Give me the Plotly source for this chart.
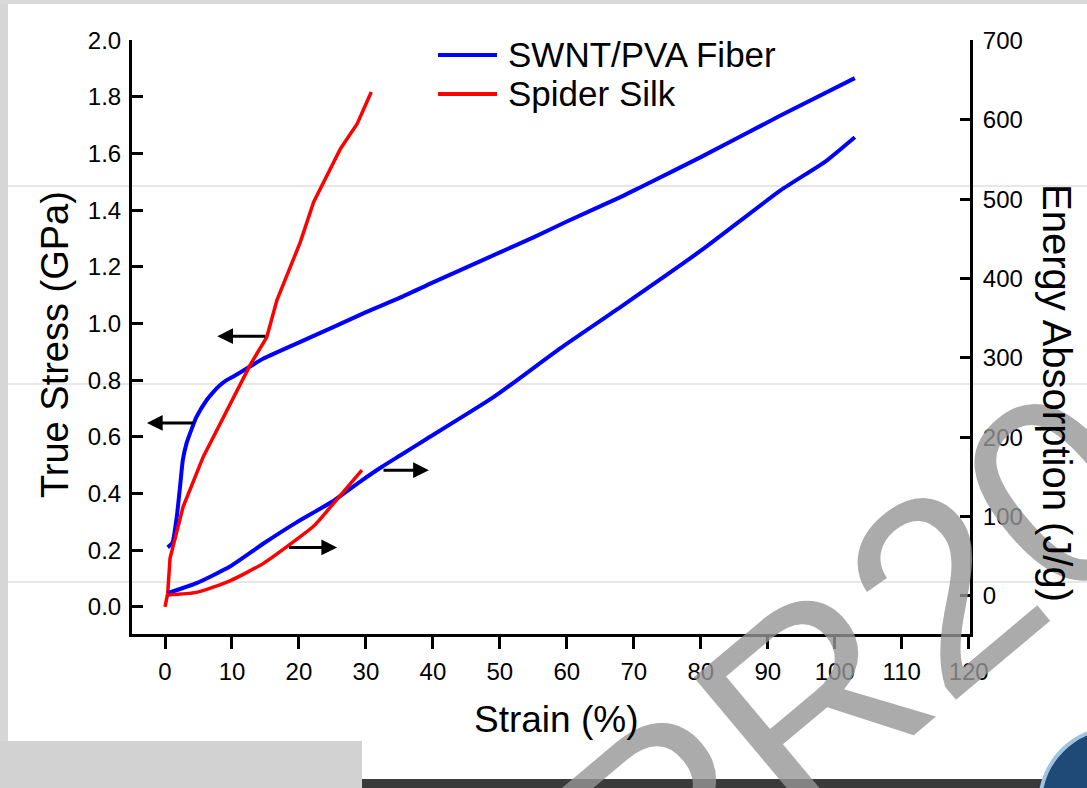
import plotly.graph_objects as go

# ---------------- data ----------------
swnt_stress_strain = [0.4, 1.1, 1.75, 2.24, 2.65, 3.2, 4.0, 4.7, 6.2, 7.2, 8.2, 9.2, 10.2, 12.2, 14.7,
                      20.2, 25.2, 30.1, 35.1, 40.1, 45.1, 50.1, 55.1, 60.0, 68.0, 71.0, 80.0,
                      91.9, 103.0]
swnt_stress = [0.21, 0.225, 0.317, 0.423, 0.517, 0.576, 0.629, 0.670, 0.729, 0.758, 0.782, 0.800,
               0.813, 0.841, 0.876, 0.935, 0.988, 1.041, 1.091, 1.146, 1.199, 1.252, 1.305, 1.360,
               1.446, 1.481, 1.587, 1.734, 1.866]

swnt_energy_strain = [0.4, 4.7, 9.7, 14.7, 19.7, 25.0, 29.1, 32.4, 35.1, 39.1, 49.1, 59.0,
                      68.0, 80.0, 91.9, 98.7, 103.0]
swnt_energy = [3.4, 16, 37, 66, 93, 119, 143.8, 162.7, 177, 198, 250.7, 312, 364, 435, 511,
               548, 578]

silk_stress_strain = [0.0, 0.4, 0.75, 2.7, 5.7, 9.7, 12.7, 15.2, 16.7, 20.2, 22.2, 26.2, 28.7, 30.8]
silk_stress = [0.0, 0.047, 0.171, 0.353, 0.529, 0.717, 0.853, 0.952, 1.082, 1.287, 1.429,
               1.617, 1.705, 1.817]

silk_energy_strain = [0.4, 4.7, 9.7, 14.7, 18.2, 22.2, 24.7, 29.4]
silk_energy = [1.3, 4.5, 19, 41, 62, 88, 112, 158.5]

x_tick_vals = list(range(0, 121, 10))
y_tick_vals = [0.0, 0.2, 0.4, 0.6, 0.8, 1.0, 1.2, 1.4, 1.6, 1.8, 2.0]
y2_tick_vals = [0, 100, 200, 300, 400, 500, 600, 700]

series_names = ["SWNT/PVA Fiber", "Spider Silk"]
series_colors = ["#0000FF", "#FF0000"]

# arrows: (tail strain, tip strain, stress level)
arrows = [(15.2, 7.8, 0.955), (4.5, -2.7, 0.649), (18.3, 25.7, 0.2095), (32.4, 39.4, 0.482)]

watermark_text = "PR20"

# ---------------- layout geometry ----------------
W, H = 1087, 788
ML, MR, MT, MB = 132, 117, 40, 154
PW, PH = W - ML - MR, H - MT - MB


def px(x):
    return (x - ML) / PW


def py(y):
    return (H - MB - y) / PH


FONT = "Liberation Sans, Arial, sans-serif"

fig = go.Figure()

fig.add_trace(go.Scatter(x=swnt_stress_strain, y=swnt_stress, mode="lines",
                         line=dict(color=series_colors[0], width=4, shape="spline", smoothing=0.5),
                         name=series_names[0], showlegend=False))
fig.add_trace(go.Scatter(x=swnt_energy_strain, y=swnt_energy, mode="lines", yaxis="y2",
                         line=dict(color=series_colors[0], width=4, shape="spline", smoothing=0.5),
                         name=series_names[0], showlegend=False))
fig.add_trace(go.Scatter(x=silk_stress_strain, y=silk_stress, mode="lines",
                         line=dict(color=series_colors[1], width=3.5),
                         name=series_names[1], showlegend=False))
fig.add_trace(go.Scatter(x=silk_energy_strain, y=silk_energy, mode="lines", yaxis="y2",
                         line=dict(color=series_colors[1], width=3.5, shape="spline", smoothing=0.6),
                         name=series_names[1], showlegend=False))

annotations = []
# faint watermark (drawn first so everything else sits above it)
annotations.append(dict(text=watermark_text, x=px(856), y=py(661), xref="paper", yref="paper",
                        xanchor="center", yanchor="middle", textangle=-40, showarrow=False,
                        font=dict(size=270, color="rgba(150,150,150,0.8)", family=FONT)))

for tail, tip, lvl in arrows:
    annotations.append(dict(x=tip, y=lvl, ax=tail, ay=lvl, xref="x", yref="y",
                            axref="x", ayref="y", text="", showarrow=True,
                            arrowhead=2, arrowsize=1.05, arrowwidth=3, arrowcolor="black"))

# axis titles
annotations.append(dict(text="True Stress (GPa)", x=px(55), y=py(345), xref="paper", yref="paper",
                        xanchor="center", yanchor="middle", textangle=-90, showarrow=False,
                        font=dict(size=38, color="black", family=FONT)))
annotations.append(dict(text="Energy Absorption (J/g)", x=px(1057), y=py(393), xref="paper",
                        yref="paper", xanchor="center", yanchor="middle", textangle=90,
                        showarrow=False, font=dict(size=40, color="black", family=FONT)))
annotations.append(dict(text="Strain (%)", x=px(556), y=py(719), xref="paper", yref="paper",
                        xanchor="center", yanchor="middle", showarrow=False,
                        font=dict(size=37, color="black", family=FONT)))

shapes = []
# slide background pieces
shapes.append(dict(type="rect", xref="paper", yref="paper", x0=px(0), x1=px(8), y0=py(741), y1=py(0),
                   fillcolor="#d6d6d6", line=dict(width=0), layer="below"))
shapes.append(dict(type="rect", xref="paper", yref="paper", x0=px(0), x1=px(W), y0=py(4), y1=py(0),
                   fillcolor="#d9d9d9", line=dict(width=0), layer="below"))
shapes.append(dict(type="rect", xref="paper", yref="paper", x0=px(0), x1=px(362), y0=py(H), y1=py(741),
                   fillcolor="#d2d2d2", line=dict(width=0), layer="below"))
shapes.append(dict(type="rect", xref="paper", yref="paper", x0=px(362), x1=px(W), y0=py(H), y1=py(779),
                   fillcolor="#3a3a3a", line=dict(width=0), layer="below"))
shapes.append(dict(type="circle", xref="paper", yref="paper", x0=px(1040), x1=px(1190), y0=py(880),
                   y1=py(728), fillcolor="#1f4a78", line=dict(color="#9fc3e0", width=4), layer="below"))
for yy in (186, 384, 582):
    shapes.append(dict(type="line", xref="paper", yref="paper", x0=px(8), x1=px(W), y0=py(yy), y1=py(yy),
                       line=dict(color="#cfcfcf", width=1), layer="below"))

# legend (line samples + labels)
for i, (name, col) in enumerate(zip(series_names, series_colors)):
    yy = 55 + 39 * i
    shapes.append(dict(type="line", xref="paper", yref="paper", x0=px(438), x1=px(497),
                       y0=py(yy), y1=py(yy), line=dict(color=col, width=4)))
    annotations.append(dict(text=name, x=px(506), y=py(yy - 1), xref="paper", yref="paper",
                            xanchor="left", yanchor="middle", showarrow=False,
                            font=dict(size=35, color="black", family=FONT)))

axis_common = dict(showgrid=False, zeroline=False, showline=True, linecolor="black",
                   linewidth=3, tickcolor="black", tickfont=dict(size=24, color="black", family=FONT))

fig.update_layout(
    width=W, height=H,
    margin=dict(l=ML, r=MR, t=MT, b=MB, pad=0),
    paper_bgcolor="white", plot_bgcolor="rgba(0,0,0,0)",
    showlegend=False,
    font=dict(family=FONT, color="black"),
    xaxis=dict(range=[-4.93, 120.2], tickvals=x_tick_vals, ticks="outside", ticklen=12,
               tickwidth=3, ticklabelstandoff=2, **axis_common),
    yaxis=dict(range=[-0.096, 2.0005], tickvals=y_tick_vals, tickformat=".1f", ticks="inside",
               ticklen=11, tickwidth=2.5, ticklabelstandoff=3, **axis_common),
    yaxis2=dict(range=[-48, 700.5], tickvals=y2_tick_vals, overlaying="y", side="right",
                ticks="inside", ticklen=10, tickwidth=2.5, ticklabelstandoff=5, **axis_common),
    annotations=annotations,
    shapes=shapes,
)

fig.write_html("out.html", config={"displayModeBar": False},
               post_script="document.body.style.margin='0';")
